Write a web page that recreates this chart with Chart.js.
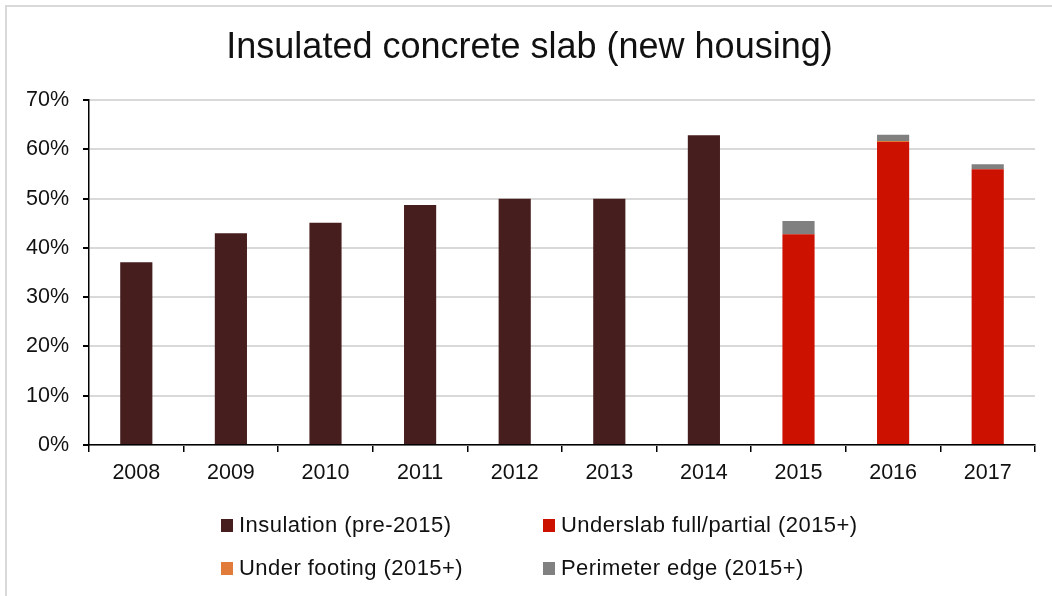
<!DOCTYPE html>
<html>
<head>
<meta charset="utf-8">
<script src="https://cdn.jsdelivr.net/npm/chart.js@4"></script>
<style>
  body { margin: 0; background: #fff; font-family: "Liberation Sans", Arial, sans-serif; }
  #wrap { position: absolute; left: 0; top: 0; width: 1052px; height: 596px; overflow: hidden; }
  #frame { position: absolute; left: 5px; top: 5px; width: 1100px; height: 700px; border: 2px solid #d9d9d9; }
  #box { position: absolute; left: 0; top: 0; width: 1052px; height: 596px; }
  #legend { position: absolute; left: 221px; top: 512px; width: 760px; }
  .item { position: absolute; font-size: 22px; letter-spacing: 0.45px; color: #111; white-space: nowrap; line-height: 26px; }
  .item span { display: inline-block; width: 12px; height: 13px; margin-right: 6px; vertical-align: 0; }
</style>
</head>
<body>
<div id="wrap">
  <div id="frame"></div>
  <div id="box"><canvas id="chart"></canvas></div>
  <div id="legend"></div>
</div>
<script>
const years = ['2008', '2009', '2010', '2011', '2012', '2013', '2014', '2015', '2016', '2017'];
const preInsulation = [37.1, 43.0, 45.1, 48.7, 50.0, 50.0, 62.9, null, null, null];
const underslab = [null, null, null, null, null, null, null, 42.8, 61.5, 56.0];
const underFooting = [null, null, null, null, null, null, null, 0, 0.2, 0];
const perimeterEdge = [null, null, null, null, null, null, null, 2.7, 1.3, 1.0];
const seriesNames = ['Insulation (pre-2015)', 'Underslab full/partial (2015+)', 'Under footing (2015+)', 'Perimeter edge (2015+)'];
const seriesColors = ['#461e1e', '#cc1100', '#e07b39', '#808080'];
const yTicks = [0, 10, 20, 30, 40, 50, 60, 70];

Chart.defaults.font.family = '"Liberation Sans", Arial, sans-serif';
Chart.defaults.color = '#111';

const allSeries = [preInsulation, underslab, underFooting, perimeterEdge];
const datasets = allSeries.map((d, i) => ({
    label: seriesNames[i],
    data: d,
    backgroundColor: seriesColors[i],
    barPercentage: 0.34,
    categoryPercentage: 1.0
}));

const ctx = document.getElementById('chart').getContext('2d');
const chart = new Chart(ctx, {
    type: 'bar',
    data: { labels: years, datasets: datasets },
    options: {
        responsive: true,
        maintainAspectRatio: false,
        animation: false,
        layout: { padding: { left: 24, right: 17, top: 0, bottom: 111 } },
        plugins: {
            legend: { display: false },
            tooltip: { enabled: false },
            title: {
                display: true,
                text: 'Insulated concrete slab (new housing)',
                color: '#111',
                font: { size: 36, weight: 'normal' },
                padding: { top: 26, bottom: 31 }
            }
        },
        scales: {
            x: {
                stacked: true,
                grid: { drawOnChartArea: false, color: '#000', tickColor: '#000', tickLength: 7, lineWidth: 1.5 },
                border: { color: '#000', width: 1.5 },
                ticks: { font: { size: 21.5 }, color: '#111', padding: 8 },
                afterFit: (s) => { s.height = 40; }
            },
            y: {
                stacked: true,
                min: 0,
                max: 70,
                afterBuildTicks: (s) => { s.ticks = yTicks.map(v => ({ value: v })); },
                grid: { color: '#d9d9d9', lineWidth: 2, tickColor: '#000', tickLength: 6 },
                border: { color: '#000', width: 1.5 },
                ticks: { font: { size: 21.5 }, color: '#111', padding: 14, callback: v => v + '%' },
                afterFit: (s) => { s.width = 65; }
            }
        }
    }
});

// legend built from the same series arrays
const legend = document.getElementById('legend');
const legendPos = [[0, 0], [322, 0], [0, 43], [322, 43]];
seriesNames.forEach((name, i) => {
    const el = document.createElement('div');
    el.className = 'item';
    el.style.left = legendPos[i][0] + 'px';
    el.style.top = legendPos[i][1] + 'px';
    el.innerHTML = '<span style="background:' + seriesColors[i] + '"></span>' + name;
    legend.appendChild(el);
});
</script>
</body>
</html>
